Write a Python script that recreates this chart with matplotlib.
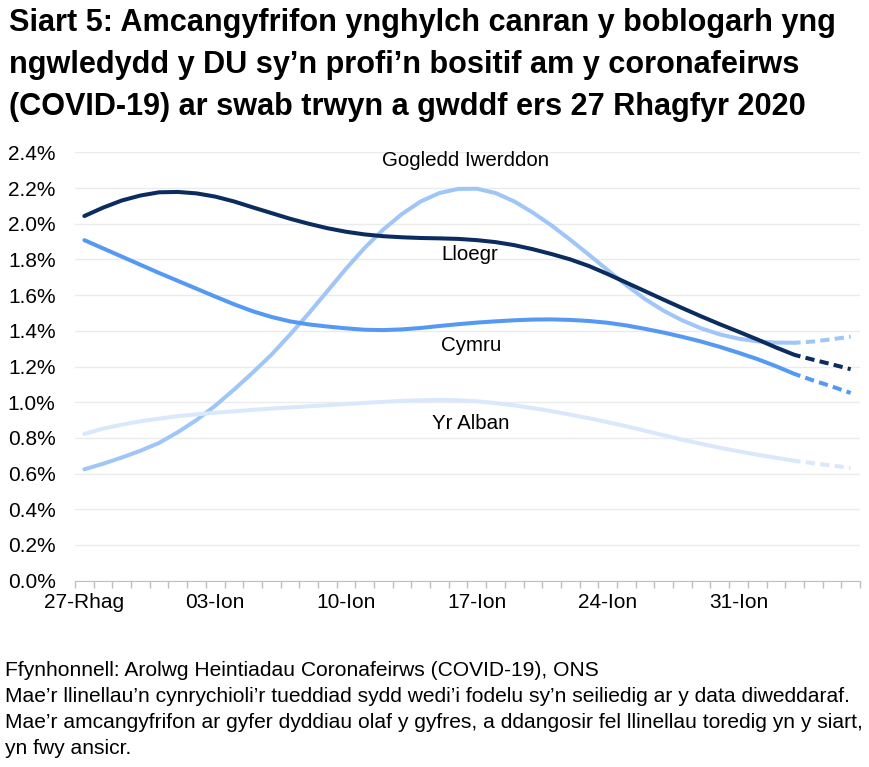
import matplotlib
matplotlib.use("Agg")
import matplotlib.pyplot as plt
import numpy as np

plt.rcParams['font.family'] = ['Liberation Sans', 'DejaVu Sans']

# one value per day, 27 Dec 2020 -> 6 Feb 2021 (% testing positive)
lloegr = [2.043, 2.09, 2.13, 2.158, 2.176, 2.178, 2.17, 2.152, 2.125, 2.092,
          2.06, 2.028, 2.0, 1.975, 1.955, 1.94, 1.93, 1.924, 1.92, 1.918,
          1.915, 1.908, 1.897, 1.88, 1.857, 1.83, 1.80, 1.763, 1.718, 1.67,
          1.622, 1.574, 1.527, 1.481, 1.437, 1.395, 1.352, 1.307, 1.265, 1.238,
          1.212, 1.185]
cymru = [1.908, 1.862, 1.816, 1.77, 1.724, 1.68, 1.636, 1.592, 1.549, 1.51,
         1.478, 1.453, 1.436, 1.424, 1.414, 1.406, 1.404, 1.408, 1.416, 1.427,
         1.437, 1.446, 1.453, 1.459, 1.463, 1.464, 1.461, 1.455, 1.445, 1.43,
         1.411, 1.39, 1.366, 1.34, 1.31, 1.277, 1.242, 1.202, 1.158, 1.122,
         1.088, 1.052]
gogledd_iwerddon = [0.624, 0.655, 0.69, 0.728, 0.772, 0.832, 0.9, 0.98, 1.07, 1.165,
                    1.265, 1.378, 1.497, 1.622, 1.748, 1.865, 1.968, 2.055, 2.125, 2.172,
                    2.195, 2.196, 2.172, 2.125, 2.062, 1.99, 1.91, 1.826, 1.74, 1.655,
                    1.578, 1.512, 1.458, 1.414, 1.38, 1.356, 1.341, 1.334, 1.333, 1.34,
                    1.353, 1.367]
yr_alban = [0.822, 0.852, 0.874, 0.893, 0.908, 0.922, 0.932, 0.941, 0.949, 0.957,
            0.964, 0.971, 0.977, 0.983, 0.99, 0.996, 1.002, 1.007, 1.011, 1.013,
            1.011, 1.005, 0.995, 0.982, 0.967, 0.95, 0.93, 0.91, 0.888, 0.865,
            0.84, 0.815, 0.79, 0.767, 0.745, 0.725, 0.706, 0.689, 0.672, 0.658,
            0.645, 0.632]

tick_labels = ['27-Rhag', '03-Ion', '10-Ion', '17-Ion', '24-Ion', '31-Ion']
tick_days = [0, 7, 14, 21, 28, 35]
dash_from = 38  # last days are less certain -> dashed

series = [
    ('Gogledd Iwerddon', gogledd_iwerddon, '#9FC6F7', 20.4, 2.357),
    ('Yr Alban', yr_alban, '#DAE8FC', 20.7, 0.883),
    ('Cymru', cymru, '#5599F5', 20.7, 1.32),
    ('Lloegr', lloegr, '#0B2C5E', 20.6, 1.83),
]

fig = plt.figure(figsize=(8.7, 7.67), dpi=100)
ax = fig.add_axes([0.0862, 0.2429, 0.9023, 0.5585])

for name, vals, col, lx, ly in series:
    x = np.arange(len(vals))
    ax.plot(x[:dash_from + 1], vals[:dash_from + 1], color=col, lw=2.9,
            solid_capstyle='round', solid_joinstyle='round', zorder=3)
    ax.plot(x[dash_from:], vals[dash_from:], color=col, lw=2.9,
            linestyle=(0.8, (2.3, 1.3)), zorder=3)
    ax.text(lx, ly, name, ha='center', va='center', fontsize=14.8, color='black')

ax.set_xlim(-0.5, 41.5)
ax.set_ylim(0, 2.4)
ax.set_yticks(np.arange(0, 2.41, 0.2))
ax.set_yticklabels(['%.1f%%' % v for v in np.arange(0, 2.41, 0.2)], fontsize=15)
ax.set_xticks(tick_days)
ax.set_xticklabels(tick_labels, fontsize=15)
ax.set_xticks(np.arange(-0.5, 42, 1), minor=True)
ax.tick_params(axis='x', which='major', length=0, pad=9)
ax.tick_params(axis='x', which='minor', length=5, color='#BFBFBF', width=1)
ax.tick_params(axis='y', length=0, pad=14)
ax.grid(axis='y', color='#EBEBEB', lw=1)
ax.set_axisbelow(True)
for s in ['top', 'right', 'left']:
    ax.spines[s].set_visible(False)
ax.spines['bottom'].set_color('#BFBFBF')

fig.text(9 / 870, 1 - 8 / 767,
         'Siart 5: Amcangyfrifon ynghylch canran y boblogarh yng\n'
         'ngwledydd y DU sy\u2019n profi\u2019n bositif am y coronafeirws\n'
         '(COVID-19) ar swab trwyn a gwddf ers 27 Rhagfyr 2020',
         ha='left', va='top', fontsize=22.1, fontweight='bold', linespacing=1.52)

fig.text(5 / 870, 1 - 661 / 767,
         'Ffynhonnell: Arolwg Heintiadau Coronafeirws (COVID-19), ONS\n'
         'Mae\u2019r llinellau\u2019n cynrychioli\u2019r tueddiad sydd wedi\u2019i fodelu sy\u2019n seiliedig ar y data diweddaraf.\n'
         'Mae\u2019r amcangyfrifon ar gyfer dyddiau olaf y gyfres, a ddangosir fel llinellau toredig yn y siart,\n'
         'yn fwy ansicr.',
         ha='left', va='top', fontsize=15.1, linespacing=1.47)

fig.savefig('out.png', dpi=100)
